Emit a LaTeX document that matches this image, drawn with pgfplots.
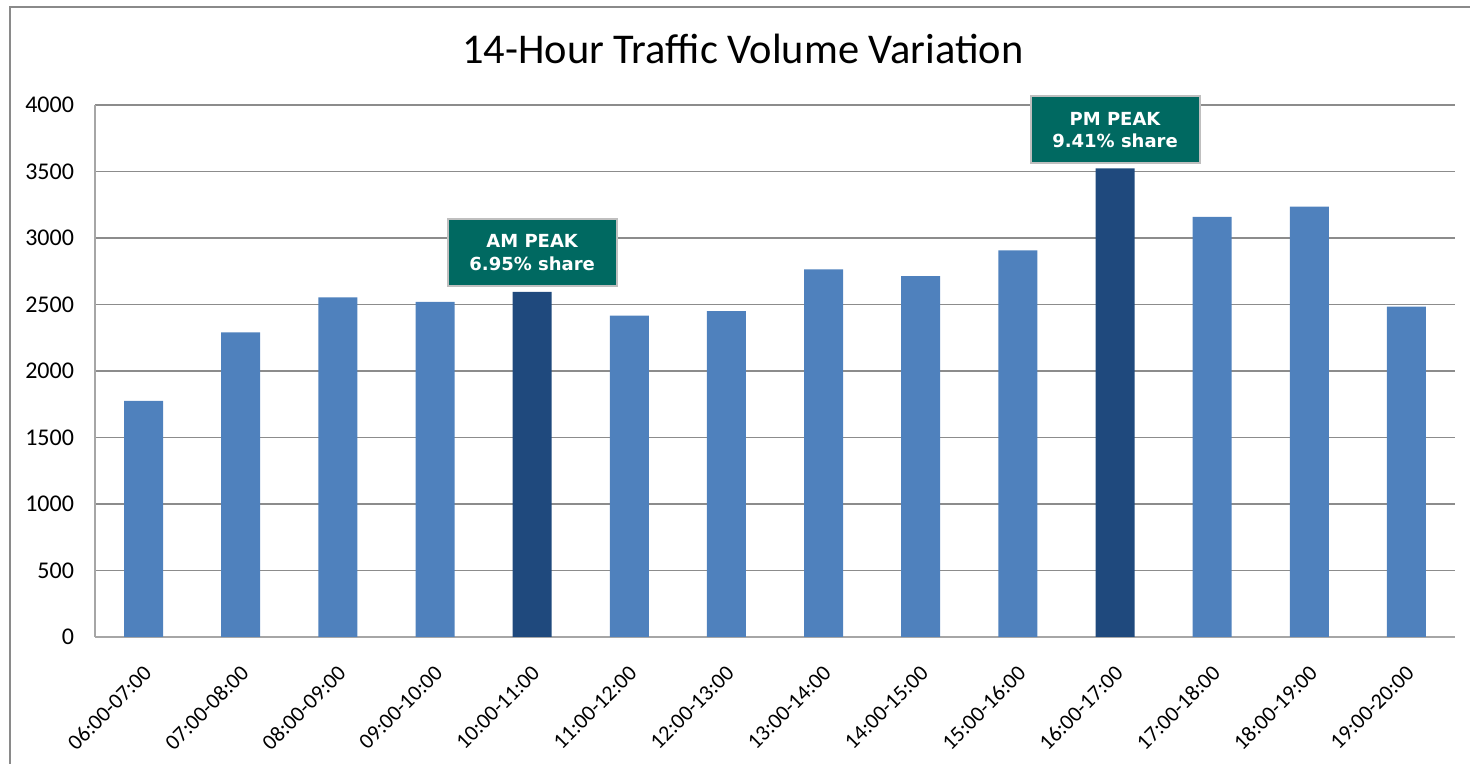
\documentclass[border=0pt]{standalone}
\usepackage{fontspec}
\setmainfont{Carlito}
\newfontfamily\boxfont{DejaVu Sans}
\usepackage{pgfplots}
\usepackage{pgfplotstable}
\pgfplotsset{compat=1.18}
\definecolor{barblue}{HTML}{4F81BD}
\definecolor{bardark}{HTML}{1F497D}
\definecolor{peakteal}{HTML}{006961}
\definecolor{gridgray}{HTML}{8C8C8C}
\definecolor{axisgray}{HTML}{A6A6A6}
\definecolor{framegray}{HTML}{8A8A8A}
\definecolor{boxedge}{HTML}{BFBFBF}

\pgfplotstableread{
x y
0 1776
1 2291
2 2554
3 2519
5 2417
6 2450
7 2764
8 2713
9 2906
11 3158
12 3236
13 2484
}\regular
\pgfplotstableread{
x y
4 2594
10 3523
}\peak

\begin{document}
\begin{tikzpicture}[x=1pt,y=1pt]
\useasboundingbox (0,0) rectangle (735,382);
\draw[line width=1pt, color=framegray] (5,0) -- (5,378.5) -- (735,378.5);
\node[anchor=base, font=\fontsize{21.2}{25}\selectfont, inner sep=0pt] at (371.5,350) {14-Hour Traffic Volume Variation};
\begin{axis}[
  at={(47.5pt,63.5pt)}, anchor=south west,
  scale only axis, width=680pt, height=266pt,
  xmin=-0.5, xmax=13.5, ymin=0, ymax=4000,
  ytick={0,500,...,4000},
  xtick={0,...,13},
  xticklabels={06:00-07:00,07:00-08:00,08:00-09:00,09:00-10:00,10:00-11:00,11:00-12:00,12:00-13:00,13:00-14:00,14:00-15:00,15:00-16:00,16:00-17:00,17:00-18:00,18:00-19:00,19:00-20:00},
  ymajorgrids, grid style={gridgray, line width=0.6pt},
  axis x line*=bottom, axis y line*=left,
  axis line style={axisgray, line width=0.8pt, -},
  major tick length=0pt,
  tick label style={font=\fontsize{12}{14}\selectfont},
  yticklabel style={/pgf/number format/assume math mode=true, /pgf/number format/set thousands separator={}, anchor=east, xshift=-7pt},
  xticklabel style={font=\fontsize{11}{13}\selectfont, rotate=45, anchor=north east, inner sep=1pt, xshift=-9pt, yshift=-8pt},
  ybar, bar width=19.5pt,
  clip=false,
]
\addplot[fill=barblue, draw=none, bar shift=0pt] table[x=x,y=y] {\regular};
\addplot[fill=bardark, draw=none, bar shift=0pt] table[x=x,y=y] {\peak};
\node[fill=peakteal, draw=boxedge, line width=1pt, text=white,
  font=\boxfont\bfseries\fontsize{9}{11.2}\selectfont, align=center,
  minimum width=84.5pt, minimum height=33.5pt, anchor=south, yshift=2.5pt]
  at (axis cs:4,2594) {AM PEAK\\6.95\% share};
\node[fill=peakteal, draw=boxedge, line width=1pt, text=white,
  font=\boxfont\bfseries\fontsize{9}{11.2}\selectfont, align=center,
  minimum width=84.5pt, minimum height=33.5pt, anchor=south, yshift=2pt]
  at (axis cs:10,3523) {PM PEAK\\9.41\% share};
\end{axis}
\end{tikzpicture}
\end{document}
